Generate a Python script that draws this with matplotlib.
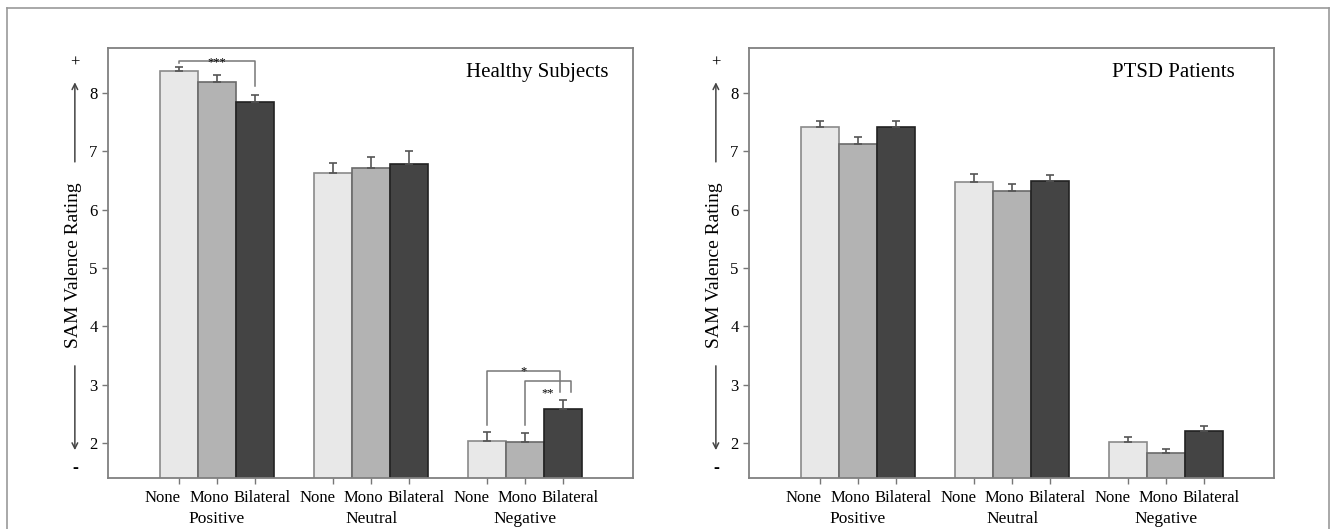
import matplotlib.pyplot as plt
import numpy as np
from matplotlib.lines import Line2D

plt.rcParams['font.family'] = ['Liberation Serif', 'DejaVu Serif']

groups = ["Positive", "Neutral", "Negative"]
conditions = ["None", "Mono", "Bilateral"]

# mean SAM valence ratings (rows: condition, cols: group)
healthy_mean = [[8.37, 6.63, 2.04],
                [8.19, 6.71, 2.02],
                [7.84, 6.79, 2.58]]
healthy_err = [[0.07, 0.17, 0.15],
               [0.11, 0.20, 0.15],
               [0.12, 0.21, 0.15]]
ptsd_mean = [[7.41, 6.48, 2.01],
             [7.13, 6.32, 1.83],
             [7.42, 6.49, 2.20]]
ptsd_err = [[0.10, 0.13, 0.09],
             [0.11, 0.12, 0.07],
             [0.10, 0.11, 0.09]]

fill = ["#e8e8e8", "#b3b3b3", "#444444"]
edge = ["#8a8a8a", "#6a6a6a", "#222222"]
width = 0.247
# small nudges so the condition names don't run into each other
label_shift = [-0.104, -0.052, 0.045]

fig = plt.figure(figsize=(13.31, 5.29), dpi=100)

# thin grey frame round the whole figure
fx0, fx1, fy1 = 7 / 1331, 1329 / 1331, 1 - 8 / 529
for xs, ys in [([fx0, fx0], [0, fy1]), ([fx0, fx1], [fy1, fy1]), ([fx1, fx1], [0, fy1])]:
    fig.add_artist(Line2D(xs, ys, color="#999999", lw=1.2))


def panel(left, means, errs, title, title_x):
    ax = fig.add_axes([left, 0.0964, 0.3945, 0.8129])
    x = np.arange(len(groups))
    ticks = []
    for j in range(3):
        pos = x + (j - 1) * width
        ticks.extend(pos)
        ax.bar(pos, means[j], width, color=fill[j], edgecolor=edge[j], linewidth=1.2, zorder=2)
        ax.errorbar(pos, means[j], yerr=[np.zeros(3), errs[j]], fmt="none",
                    ecolor="#555555", elinewidth=1.2, capsize=3, capthick=1.2, zorder=3)
    ax.set_xlim(-0.708, 2.70)
    ax.set_ylim(1.4, 8.77)
    ax.set_yticks([2, 3, 4, 5, 6, 7, 8])
    ax.set_xticks(sorted(ticks))
    ax.set_xticklabels([])
    ax.tick_params(axis="both", direction="out", length=4, width=1, color="#777777",
                   labelsize=12)
    for s in ax.spines.values():
        s.set_color("#808080")
        s.set_linewidth(1.3)
    tr = ax.get_xaxis_transform()
    for i, g in enumerate(groups):
        for j, c in enumerate(conditions):
            ax.text(x[i] + (j - 1) * width + label_shift[j], -0.047, c, transform=tr,
                    ha="center", va="center", fontsize=12)
        ax.text(x[i], -0.095, g, transform=tr, ha="center", va="center", fontsize=12.5)
    ax.text(title_x, 0.942, title, transform=ax.transAxes, ha="right", va="center",
            fontsize=15)

    # y label with direction arrows
    yt = ax.get_yaxis_transform()
    ax.text(-0.066, 5.04, "SAM Valence Rating", transform=yt, rotation=90,
            ha="center", va="center", fontsize=14)
    ax.annotate("", xy=(-0.063, 8.23), xytext=(-0.063, 6.77), xycoords=yt, textcoords=yt,
                arrowprops=dict(arrowstyle="->", color="#444444", lw=1.1), annotation_clip=False)
    ax.annotate("", xy=(-0.063, 1.83), xytext=(-0.063, 3.37), xycoords=yt, textcoords=yt,
                arrowprops=dict(arrowstyle="->", color="#444444", lw=1.1), annotation_clip=False)
    ax.text(-0.063, 8.52, "+", transform=yt, ha="center", va="center", fontsize=12)
    ax.text(-0.063, 1.57, "-", transform=yt, ha="center", va="center", fontsize=13,
            fontweight="bold")
    return ax


ax1 = panel(0.0811, healthy_mean, healthy_err, "Healthy Subjects", 0.954)
ax2 = panel(0.5627, ptsd_mean, ptsd_err, "PTSD Patients", 0.926)

# significance brackets for healthy subjects
bc = "#777777"
p0, p2 = -width, width
ax1.plot([p0, p0, p2, p2], [8.51, 8.55, 8.55, 8.12], color=bc, lw=1.1)
ax1.text(0, 8.47, "***", ha="center", va="baseline", fontsize=9)

n0, n1, n2 = 2 - width, 2, 2 + width
ax1.plot([n0, n0, n2 - 0.02, n2 - 0.02], [2.31, 3.235, 3.235, 2.88], color=bc, lw=1.1)
ax1.text(1.987, 3.17, "*", ha="center", va="baseline", fontsize=9)
ax1.plot([n1, n1, n2 + 0.05, n2 + 0.05], [2.31, 3.06, 3.06, 2.88], color=bc, lw=1.1)
ax1.text(2.149, 2.80, "**", ha="center", va="baseline", fontsize=9)

plt.savefig("out.png", dpi=100)
